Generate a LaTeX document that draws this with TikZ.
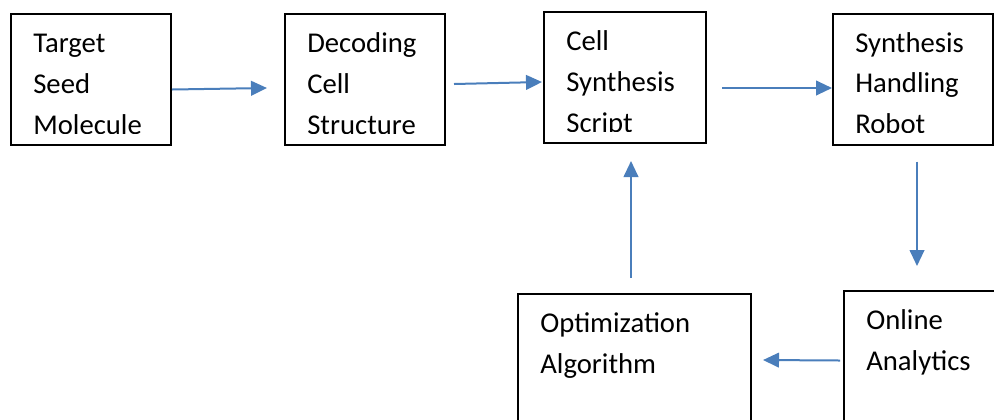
\documentclass[tikz,border=0pt]{standalone}
\usepackage{fontspec}
\setmainfont{Carlito}
\usepackage{tikz}
\usetikzlibrary{arrows.meta}
\definecolor{wordblue}{RGB}{74,126,187}
\tikzstyle{flow} = [line width=1.5pt, wordblue, -{Triangle[length=12pt,width=11pt]}]
\tikzstyle{box} = [rectangle, draw, line width=1.5pt, inner sep=0pt, minimum width=120pt, minimum height=98.25pt]
\tikzset{lines/.style={path picture={
  \clip ([yshift=9pt]path picture bounding box.south west) rectangle (path picture bounding box.north east);
  \node [anchor=base west, inner sep=0pt, minimum width=0pt, minimum height=0pt, font=\fontsize{21.5}{30.5}\selectfont]
    at ([shift={(16pt,-29pt)}]path picture bounding box.north west)
    {\begin{tabular}[t]{@{}l@{}}#1\end{tabular}};
}}}

\begin{document}
\begin{tikzpicture}[x=0.75pt,y=-0.75pt]
\useasboundingbox (0,0) rectangle (994,419);
\node [box, lines={Target\\Seed\\Molecule}] (a) at (91,79.5) {};
\node [box, lines={Decoding\\Cell\\Structure}] (b) at (365,79.5) {};
\node [box, minimum width=121.5pt, lines={Cell\\Synthesis\\Script}] (c) at (625,77.5) {};
\node [box, lines={Synthesis\\Handling\\Robot}] (d) at (913,79) {};
\node [box, minimum width=174.75pt, lines={Optimization\\Algorithm}] (e) at (634.5,359.5) {};
\node [box, lines={Online\\Analytics}] (f) at (924,356.5) {};
\draw [flow] ([shift={(0,10)}]a.east) to ([shift={(-17,8.5)}]b.west);
\draw [flow] ([shift={(8,4.5)}]b.east) to ([shift={(-1,4.5)}]c.west);
\draw [flow] ([shift={(15,10.5)}]c.east) to ([shift={(0,9)}]d.west);
\draw [flow] ([shift={(4,16)}]d.south) to ([shift={(-7,-24)}]f.north);
\draw [flow] ([shift={(-3,4)}]f.west) to ([shift={(11,0.5)}]e.east);
\draw [flow] ([shift={(-3.5,-15)}]e.north) to ([shift={(6,17)}]c.south);
\end{tikzpicture}
\end{document}
